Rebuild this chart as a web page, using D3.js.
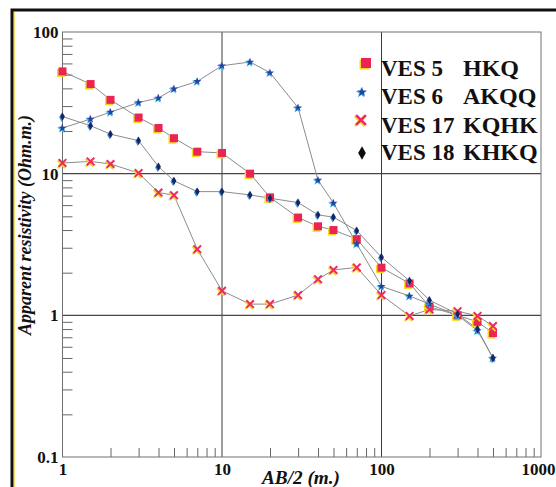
<!DOCTYPE html>
<html>
<head>
<meta charset="utf-8">
<script src="https://cdn.jsdelivr.net/npm/d3@7"></script>
<style>
  html, body { margin: 0; padding: 0; background: #fff; }
  svg { display: block; }
</style>
</head>
<body>
<svg width="556" height="487"></svg>
<script>
(function (d3) {
  "use strict";

  // AB/2 spacings (m) and apparent resistivity readings (Ohm.m)
  var spacings = [1, 1.5, 2, 3, 4, 5, 7, 10, 15, 20, 30, 40, 50, 70, 100, 150, 200, 300, 400, 500];
  var ves5 = [52.7, 42.9, 33.2, 24.9, 21.0, 17.8, 14.3, 14.0, 10.0, 6.8, 4.9, 4.25, 4.0, 3.45, 2.17, 1.68, 1.15, 1.0, 0.9, 0.75];
  var ves6 = [21.0, 24.3, 27.2, 31.8, 34.2, 39.7, 44.8, 57.8, 61.4, 51.6, 29.2, 9.0, 6.2, 3.2, 1.6, 1.37, 1.2, 1.0, 0.78, 0.5];
  var ves17 = [11.9, 12.2, 11.7, 10.1, 7.35, 7.05, 2.93, 1.49, 1.2, 1.2, 1.39, 1.8, 2.09, 2.18, 1.39, 0.99, 1.1, 1.07, 0.99, 0.84];
  var ves18 = [25.3, 21.8, 19.0, 17.1, 11.2, 8.9, 7.47, 7.47, 7.08, 6.71, 6.25, 5.12, 4.93, 3.96, 2.57, 1.75, 1.28, 1.02, 0.8, 0.5];

  var seriesNames = ["VES 5", "VES 6", "VES 17", "VES 18"];
  var curveTypes = ["HKQ", "AKQQ", "KQHK", "KHKQ"];
  var xTicks = [1, 10, 100, 1000];
  var yTicks = [0.1, 1, 10, 100];

  var svg = d3.select("svg");
  var width = +svg.attr("width");
  var height = +svg.attr("height");

  var left = 62.5, right = 541, top = 32, bottom = 457;

  var x = d3.scaleLog().domain([1, 1000]).range([left, right]);
  var y = d3.scaleLog().domain([0.1, 100]).range([bottom, top]);

  // scanned page frame
  svg.append("path")
    .attr("d", "M12,487 L12,10 L556,10")
    .attr("fill", "none")
    .attr("stroke", "#111")
    .attr("stroke-width", 3);
  svg.append("line")
    .attr("x1", 14.5).attr("x2", 14.5).attr("y1", 12).attr("y2", 487)
    .attr("stroke", "#f2e27a").attr("stroke-width", 1);

  // minor ticks
  var minorX = [];
  var minorY = [];
  [1, 10, 100].forEach(function (dec) {
    for (var k = 2; k <= 9; k++) minorX.push(dec * k);
  });
  [0.1, 1, 10].forEach(function (dec) {
    for (var k = 2; k <= 9; k++) minorY.push(+(dec * k).toPrecision(3));
  });

  var minorXAxis = svg.append("g")
    .attr("transform", "translate(0," + bottom + ")")
    .call(d3.axisBottom(x).tickValues(minorX).tickSize(-9).tickFormat(""));
  var minorYAxis = svg.append("g")
    .attr("transform", "translate(" + left + ",0)")
    .call(d3.axisLeft(y).tickValues(minorY).tickSize(-10).tickFormat(""));
  [minorXAxis, minorYAxis].forEach(function (ax) {
    ax.select(".domain").remove();
    ax.selectAll("line").attr("stroke", "#666").attr("stroke-width", 1);
  });

  // decade grid lines
  svg.append("g")
    .selectAll("line")
    .data([10, 100])
    .join("line")
    .attr("x1", function (d) { return x(d); })
    .attr("x2", function (d) { return x(d); })
    .attr("y1", top)
    .attr("y2", bottom)
    .attr("stroke", "#3a3a3a")
    .attr("stroke-width", 1);
  svg.append("g")
    .selectAll("line")
    .data([1, 10])
    .join("line")
    .attr("x1", left)
    .attr("x2", right)
    .attr("y1", function (d) { return y(d); })
    .attr("y2", function (d) { return y(d); })
    .attr("stroke", "#5a3c44")
    .attr("stroke-width", 1.2);

  svg.append("rect")
    .attr("x", left)
    .attr("y", top)
    .attr("width", right - left)
    .attr("height", bottom - top)
    .attr("fill", "none")
    .attr("stroke", "#707070")
    .attr("stroke-width", 1);

  // tick labels
  var xAxis = svg.append("g")
    .attr("transform", "translate(0," + bottom + ")")
    .call(d3.axisBottom(x).tickValues(xTicks).tickFormat(d3.format("")).tickSize(0).tickPadding(6));
  var yAxis = svg.append("g")
    .attr("transform", "translate(" + left + ",0)")
    .call(d3.axisLeft(y).tickValues(yTicks).tickFormat(d3.format("")).tickSize(0).tickPadding(4));
  [xAxis, yAxis].forEach(function (ax) {
    ax.select(".domain").remove();
    ax.selectAll("text")
      .attr("fill", "#111")
      .style("font-family", "'Liberation Serif', 'DejaVu Serif', serif")
      .style("font-weight", "bold")
      .style("font-size", "17px");
  });
  // last label sits against the page edge
  xAxis.selectAll("text")
    .filter(function (d) { return d === 1000; })
    .attr("text-anchor", "end")
    .attr("x", width - 1 - x(1000));

  svg.append("text")
    .attr("x", 301)
    .attr("y", 484)
    .attr("text-anchor", "middle")
    .attr("textLength", 78)
    .attr("lengthAdjust", "spacingAndGlyphs")
    .style("font-family", "'Liberation Serif', serif")
    .style("font-weight", "bold")
    .style("font-style", "italic")
    .style("font-size", "18px")
    .attr("fill", "#111")
    .text("AB/2 (m.)");

  svg.append("text")
    .attr("transform", "translate(31,225) rotate(-90)")
    .attr("text-anchor", "middle")
    .attr("textLength", 220)
    .attr("lengthAdjust", "spacingAndGlyphs")
    .style("font-family", "'Liberation Serif', serif")
    .style("font-weight", "bold")
    .style("font-style", "italic")
    .style("font-size", "19px")
    .attr("fill", "#111")
    .text("Apparent resistivity (Ohm.m.)");

  // series lines and markers
  var allSeries = [ves5, ves6, ves17, ves18];
  var line = d3.line()
    .x(function (d) { return x(d[0]); })
    .y(function (d) { return y(d[1]); });

  var plotG = svg.append("g");

  allSeries.forEach(function (vals) {
    var pts = spacings.map(function (s, i) { return [s, vals[i]]; });
    plotG.append("path")
      .datum(pts)
      .attr("d", line)
      .attr("fill", "none")
      .attr("stroke", "#8c8c8c")
      .attr("stroke-width", 1);
  });

  var symStar = d3.symbol().type(d3.symbolStar);
  var symDiamond = d3.symbol().type(d3.symbolDiamond);

  function drawMarker(g, kind, cx, cy, scale, dark) {
    var s = scale || 1;
    if (kind === 0) {
      var a = 8 * s;
      g.append("rect")
        .attr("x", cx - a / 2 - 1.5).attr("y", cy - a / 2 + 1.5)
        .attr("width", a).attr("height", a).attr("fill", "#f7d81c");
      g.append("rect")
        .attr("x", cx - a / 2).attr("y", cy - a / 2)
        .attr("width", a).attr("height", a).attr("fill", "#ea2553");
    } else if (kind === 1) {
      g.append("path")
        .attr("d", symStar.size(26 * s * s)())
        .attr("transform", "translate(" + (cx - 0.8) + "," + (cy + 0.8) + ")")
        .attr("fill", "#2fb5e8");
      g.append("path")
        .attr("d", symStar.size(20 * s * s)())
        .attr("transform", "translate(" + cx + "," + cy + ")")
        .attr("fill", "#2c3e9e");
    } else if (kind === 2) {
      var r = 3.8 * s;
      [["#f7d81c", -1.2, 1.2], ["#ee2a63", 0, 0]].forEach(function (c) {
        g.append("path")
          .attr("d", "M" + (-r) + "," + (-r) + "L" + r + "," + r + "M" + r + "," + (-r) + "L" + (-r) + "," + r)
          .attr("transform", "translate(" + (cx + c[1]) + "," + (cy + c[2]) + ")")
          .attr("stroke", c[0])
          .attr("stroke-width", 2 * s)
          .attr("fill", "none");
      });
    } else {
      if (!dark) {
        g.append("path")
          .attr("d", symDiamond.size(24 * s * s)())
          .attr("transform", "translate(" + (cx - 0.8) + "," + (cy + 0.8) + ")")
          .attr("fill", "#3a9ad8");
      }
      g.append("path")
        .attr("d", symDiamond.size(20 * s * s)())
        .attr("transform", "translate(" + cx + "," + cy + ")")
        .attr("fill", dark ? "#0d0d0d" : "#1b2463");
    }
  }

  allSeries.forEach(function (vals, k) {
    spacings.forEach(function (s, i) {
      drawMarker(plotG, k, x(s), y(vals[i]), 1, false);
    });
  });

  // legend
  var legendSymX = [366, 362, 361, 362];
  var legendSymY = [63, 92, 120, 153];
  var legendSize = [1.25, 1.2, 1.3, 1.6];
  var legendBase = [76, 104, 133, 160];
  var legendG = svg.append("g");

  seriesNames.forEach(function (name, k) {
    drawMarker(legendG, k, legendSymX[k], legendSymY[k], legendSize[k], true);
    legendG.append("text")
      .attr("x", 381)
      .attr("y", legendBase[k])
      .style("font-family", "'Liberation Serif', serif")
      .style("font-weight", "bold")
      .style("font-size", "23px")
      .attr("fill", "#111")
      .text(name);
    legendG.append("text")
      .attr("x", 463)
      .attr("y", legendBase[k])
      .style("font-family", "'Liberation Serif', serif")
      .style("font-weight", "bold")
      .style("font-size", "24px")
      .attr("fill", "#111")
      .text(curveTypes[k]);
  });
})(d3);
</script>
</body>
</html>
